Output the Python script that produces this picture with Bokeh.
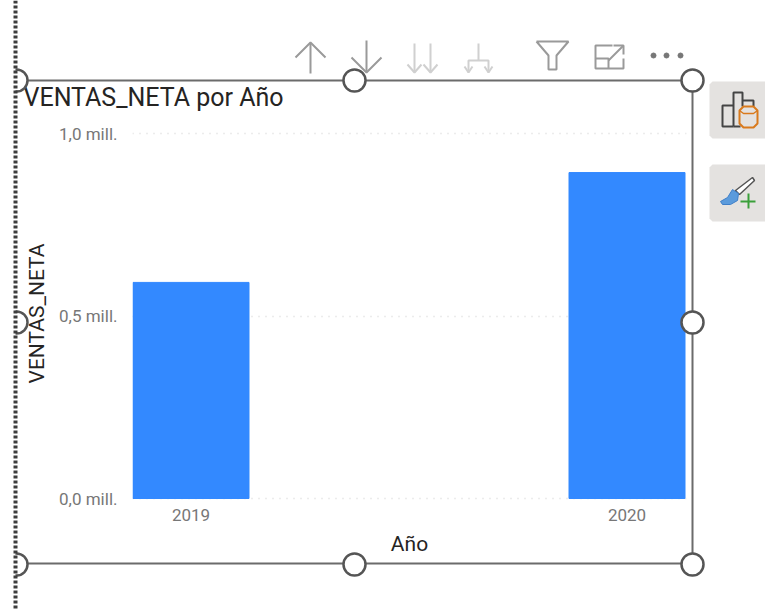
from bokeh.embed import file_html
from bokeh.resources import INLINE
from bokeh.plotting import figure
from bokeh.models import FixedTicker, Range1d

years = [2019, 2020]
ventas_neta = [0.592, 0.893]
y_ticks = [0.0, 0.5, 1.0]
y_tick_labels = {0.0: "0,0 mill.", 0.5: "0,5 mill.", 1.0: "1,0 mill."}
x_tick_labels = {2019: "2019", 2020: "2020"}

W, H = 765, 609
F_L, F_R, F_T, F_B = 132, 686, 123, 503  # plot frame in page pixels
PX_Y = 365.0
PX_X = 436.0

p = figure(width=W, height=H, output_backend="svg", toolbar_location=None,
           x_range=Range1d(2019 - (190.5 - F_L) / PX_X, 2020 + (F_R - 626.5) / PX_X),
           y_range=Range1d(-(F_B - 498) / PX_Y, 1 + (133 - F_T) / PX_Y),
           frame_width=F_R - F_L, frame_height=F_B - F_T,
           min_border_left=F_L, min_border_right=W - F_R,
           min_border_top=F_T, min_border_bottom=H - F_B,
           title="VENTAS_NETA por Año", x_axis_label="Año", y_axis_label="VENTAS_NETA",
           background_fill_color="white", border_fill_color="white")
p.outline_line_color = None
p.vbar(x=years, top=ventas_neta, bottom=0, width=116 / PX_X, color="#3389ff")

p.title.text_font = "Roboto"
p.title.text_font_size = "25px"
p.title.text_font_style = "normal"
p.title.text_color = "#252423"
p.title.align = "left"
p.title.offset = 23 - F_L
p.title.standoff = 23

p.xgrid.visible = False
p.ygrid.ticker = FixedTicker(ticks=y_ticks)
p.ygrid.grid_line_color = "#d9d9d9"
p.ygrid.grid_line_dash = "1 6"
p.ygrid.grid_line_width = 1.5

for ax in (p.xaxis[0], p.yaxis[0]):
    ax.axis_line_color = None
    ax.major_tick_line_color = None
    ax.minor_tick_line_color = None
    ax.major_tick_out = 0
    ax.major_label_text_font = "Roboto"
    ax.major_label_text_font_size = "17px"
    ax.major_label_text_color = "#777777"
    ax.axis_label_text_font = "Roboto"
    ax.axis_label_text_font_size = "21px"
    ax.axis_label_text_font_style = "normal"
    ax.axis_label_text_color = "#252423"
p.xaxis[0].ticker = FixedTicker(ticks=years)
p.yaxis[0].ticker = FixedTicker(ticks=y_ticks)
p.xaxis[0].major_label_overrides = x_tick_labels
p.yaxis[0].major_label_overrides = y_tick_labels
p.xaxis[0].major_label_standoff = 5
p.yaxis[0].major_label_standoff = 15
p.xaxis[0].axis_label_standoff = 8
p.yaxis[0].axis_label_standoff = 7

# transparent layer with the selection frame and the report's icons, in page pixels
o = figure(width=W, height=H, output_backend="svg", toolbar_location=None,
           x_range=Range1d(0, W), y_range=Range1d(H, 0),
           min_border=0, x_axis_location=None, y_axis_location=None,
           background_fill_alpha=0, border_fill_alpha=0)
o.outline_line_color = None
o.grid.visible = False
o.styles = {"position": "absolute", "left": "0px", "top": "0px"}


def line(xs, ys, color="#666666", w=2.0, dash="solid"):
    o.line(xs, ys, line_color=color, line_width=w, line_dash=dash)


def fill(xs, ys, color, line_color=None, w=1.0):
    o.patch(xs, ys, fill_color=color, line_color=line_color, line_width=w)


# selection border
G = "#6b6b6b"
line([15, 692, 692, 15], [80, 80, 563, 563], G, 2)
# handles
hx = [354, 692, 692, 692, 354, 16, 16, 16]
hy = [80, 80, 322, 564, 564, 80, 322, 564]
o.scatter(hx, hy, marker="circle", size=22, fill_color="white", line_color="#555555", line_width=2.5)
o.quad(left=[0], right=[15], top=[60], bottom=[585], fill_color="white", line_color=None)
# dotted left edge
line([15, 15], [0, 609], "#3d3d3d", 4, "3 2")

# header icons
A = "#9a9a9a"
L = "#d0d0d0"
line([310, 310], [43, 73], A)
line([295, 310, 325], [57, 42, 57], A)
line([366, 366], [40, 71], A)
line([351, 366, 381], [57, 72, 57], A)
for x in (414, 430):
    line([x, x], [43, 72], L)
    line([x - 7, x, x + 7], [64, 72, 64], L)
line([478, 478], [43, 60], L)
line([468, 468, 488, 488], [72, 60, 60, 72], L)
line([464, 468, 472], [66, 72, 66], L)
line([484, 488, 492], [66, 72, 66], L)
line([536, 568, 556, 556, 548, 548, 536], [41, 41, 55, 69, 69, 55, 41], A)
line([612, 595, 595, 623, 623], [45, 45, 68, 68, 58], A)
line([595, 608, 608], [58, 58, 68], A)
line([608, 623], [60, 45], A)
line([613, 623, 623], [45, 45, 54], A)
o.scatter([653, 666, 680], [55, 55, 55], marker="circle", size=5, color="#777777")

# side buttons
for t in (81, 164):
    fill([712, 765, 765, 712, 709, 709], [t, t, t + 57, t + 57, t + 54, t + 3], "#e4e2e0")
line([733, 722, 722, 733], [105, 105, 126, 126], "#444444")
line([733, 733, 742, 742], [126, 92, 92, 106], "#444444")
line([742, 753, 753], [100, 100, 106], "#444444")
line([733, 740], [126, 126], "#444444")
fill([739, 743, 753, 757, 757, 753, 743, 739], [110, 106, 106, 110, 123, 127, 127, 123], "#e4e2e0", "#d97a1c", 2)
line([739, 743, 753, 757], [110, 113, 113, 110], "#d97a1c", 1.5)
# brush
fill([735, 752, 754, 739], [190, 177, 180, 194], "white", "#555555", 1.5)
fill([720, 727, 732, 738, 737, 730, 722], [201, 197, 189, 193, 200, 204, 204], "#5b9bdc", "#3f7fc8", 1)
line([748, 748], [193, 208], "#3aa03a")
line([740, 755], [201, 201], "#3aa03a")

open("out.html", "w").write(file_html([p, o], INLINE))
